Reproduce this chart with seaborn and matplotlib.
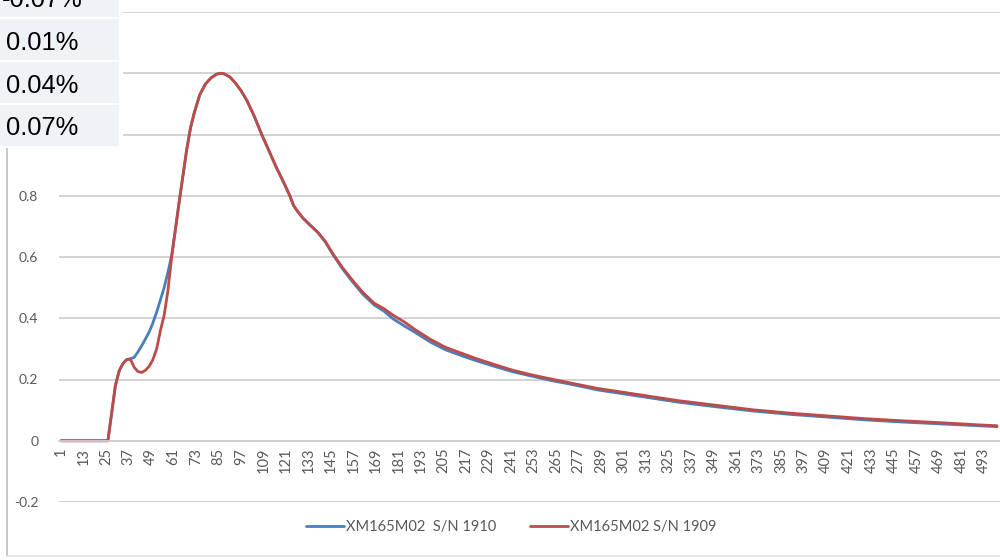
import numpy as np
import pandas as pd
import matplotlib
matplotlib.use("Agg")
import matplotlib.pyplot as plt
from matplotlib.patches import Rectangle
from matplotlib.lines import Line2D
import seaborn as sns

# ---------------- data ----------------
sample_index = [1, 25, 26, 28, 30, 32, 34, 36, 38, 40, 42, 44, 46, 48, 50, 52, 54,
                56, 58, 60, 62, 64, 66, 68, 70, 72, 75, 78, 81, 84, 86, 88, 91, 94,
                97, 100, 104, 108, 112, 116, 120, 123, 125, 127, 130, 134, 138, 142,
                146, 151, 156, 162, 168, 173, 178, 184, 190, 198, 206, 214, 222, 232,
                242, 252, 262, 274, 287, 300, 315, 330, 350, 370, 390, 410, 430, 450,
                470, 490, 500]

sn_1910 = [0.0, 0.0, 0.0, 0.09, 0.18, 0.228, 0.252, 0.265, 0.268, 0.272, 0.29, 0.31,
           0.332, 0.355, 0.385, 0.42, 0.46, 0.5, 0.55, 0.605, 0.69, 0.78, 0.865, 0.95,
           1.02, 1.07, 1.13, 1.165, 1.185, 1.197, 1.2, 1.198, 1.188, 1.168, 1.143,
           1.112, 1.06, 1.0, 0.945, 0.89, 0.84, 0.8, 0.768, 0.75, 0.727, 0.703,
           0.68, 0.648, 0.608, 0.562, 0.522, 0.478, 0.443, 0.424, 0.398, 0.375,
           0.353, 0.322, 0.297, 0.279, 0.262, 0.243, 0.225, 0.211, 0.197, 0.183,
           0.166, 0.154, 0.140, 0.126, 0.111, 0.097, 0.086, 0.077, 0.068, 0.061,
           0.055, 0.049, 0.046]

sn_1909 = [0.0, 0.0, 0.0, 0.09, 0.18, 0.228, 0.252, 0.265, 0.266, 0.24, 0.226, 0.223,
           0.23, 0.243, 0.265, 0.3, 0.36, 0.41, 0.49, 0.6, 0.69, 0.78, 0.865, 0.95,
           1.02, 1.07, 1.13, 1.165, 1.185, 1.197, 1.2, 1.198, 1.188, 1.168, 1.143,
           1.112, 1.06, 1.0, 0.945, 0.89, 0.84, 0.8, 0.768, 0.75, 0.727, 0.703,
           0.68, 0.65, 0.61, 0.566, 0.527, 0.484, 0.449, 0.432, 0.41, 0.388,
           0.362, 0.331, 0.305, 0.287, 0.269, 0.249, 0.230, 0.215, 0.202, 0.187,
           0.171, 0.159, 0.145, 0.131, 0.116, 0.101, 0.090, 0.081, 0.072, 0.065,
           0.059, 0.052, 0.049]

series_names = ["XM165M02  S/N 1910", "XM165M02 S/N 1909"]
series_colors = ["#4A7EBB", "#BE4B48"]

x_tick_values = [1, 13, 25, 37, 49, 61, 73, 85, 97, 109, 121, 133, 145, 157, 169,
                 181, 193, 205, 217, 229, 241, 253, 265, 277, 289, 301, 313, 325,
                 337, 349, 361, 373, 385, 397, 409, 421, 433, 445, 457, 469, 481, 493]
x_tick_labels = [str(v) for v in x_tick_values]
y_tick_values = [-0.2, 0.0, 0.2, 0.4, 0.6, 0.8, 1.0, 1.2, 1.4]
# labels for 1, 1.2 and 1.4 are hidden under the overlay table in the reference
y_tick_labels = ["-0.2", "0", "0.2", "0.4", "0.6", "0.8", "", "", ""]

table_labels = ["-0.07%", "0.01%", "0.04%", "0.07%"]

# ---------------- build frame ----------------
df = pd.concat([
    pd.DataFrame({"sample": sample_index, "value": sn_1910, "series": series_names[0]}),
    pd.DataFrame({"sample": sample_index, "value": sn_1909, "series": series_names[1]}),
], ignore_index=True)

sns.set_theme(style="white")
plt.rcParams["font.family"] = ["Lato", "DejaVu Sans"]

W, H = 1000, 560
fig = plt.figure(figsize=(W / 100, H / 100), dpi=100)
fig.patch.set_facecolor("white")

def fx(px):
    return px / W

def fy(py):
    return 1 - py / H

ax_left, ax_right, ax_top, ax_bottom = 59, 1000, 12, 502
ax = fig.add_axes([fx(ax_left), fy(ax_bottom), (ax_right - ax_left) / W,
                   (ax_bottom - ax_top) / H])

sns.lineplot(data=df, x="sample", y="value", hue="series", hue_order=series_names,
             palette=dict(zip(series_names, series_colors)), estimator=None,
             sort=False, linewidth=2.0, ax=ax)

px_per_cat = (997 - 61) / 499.0
ax.set_xlim(1 - (61 - ax_left) / px_per_cat, 500 + (ax_right - 997) / px_per_cat)
ax.set_ylim(-0.2, 1.4)

grid_c = "#CFCFCF"
for s in ["top", "right", "left"]:
    ax.spines[s].set_visible(False)
ax.spines["bottom"].set_position(("data", 0))
ax.spines["bottom"].set_color(grid_c)
ax.spines["bottom"].set_linewidth(1.3)

ax.set_yticks(y_tick_values)
ax.set_yticklabels(y_tick_labels)
ax.set_xticks(x_tick_values)
ax.set_xticklabels(x_tick_labels)
ax.grid(axis="y", color=grid_c, linewidth=1.3)
ax.grid(axis="x", visible=False)
ax.tick_params(axis="x", length=0, pad=5, labelsize=10.5, labelcolor="#595959",
               labelrotation=90)
ax.tick_params(axis="y", length=0, pad=15, labelsize=10, labelcolor="#595959")
ax.set_xlabel("")
ax.set_ylabel("")
ax.set_facecolor("none")

handles, labels = ax.get_legend_handles_labels()
if ax.get_legend() is not None:
    ax.get_legend().remove()
fig.legend(handles, labels, loc="center", bbox_to_anchor=(fx(511.5), fy(527)),
           ncol=2, frameon=False, handlelength=2.6, handletextpad=0.15,
           columnspacing=2.3, prop={"size": 10.5}, labelcolor="#595959")

# chart frame (outer border, partly visible)
fig.add_artist(Line2D([fx(6.5), fx(6.5)], [fy(148), fy(556)], color="#BDBDBD",
                      linewidth=1.2, transform=fig.transFigure))
fig.add_artist(Line2D([fx(6.5), fx(1000)], [fy(556), fy(556)], color="#E2E2E2",
                      linewidth=1.2, transform=fig.transFigure))

# overlay table cells (top-left)
fig.add_artist(Rectangle((0, fy(147.5)), fx(122.5), 1 - fy(147.5) + 0.01,
                         transform=fig.transFigure, facecolor="white",
                         edgecolor="none", zorder=10))
cell_tops = [-25, 19.3, 62.3, 105.3]
cell_bottoms = [16.7, 60.0, 102.7, 145.7]
baselines = [7.3, 50.0, 92.7, 135.4]
for lab, t, b, bl in zip(table_labels, cell_tops, cell_bottoms, baselines):
    fig.add_artist(Rectangle((0, fy(b)), fx(119.3), (b - t) / H,
                             transform=fig.transFigure, facecolor="#EEF3F8",
                             edgecolor="none", zorder=11))
    fig.text(fx(42), fy(bl), lab, ha="center", va="baseline", fontsize=18.4,
             family=["Liberation Sans", "DejaVu Sans"], color="black", zorder=12)

fig.savefig("out.png", dpi=100, facecolor="white")
